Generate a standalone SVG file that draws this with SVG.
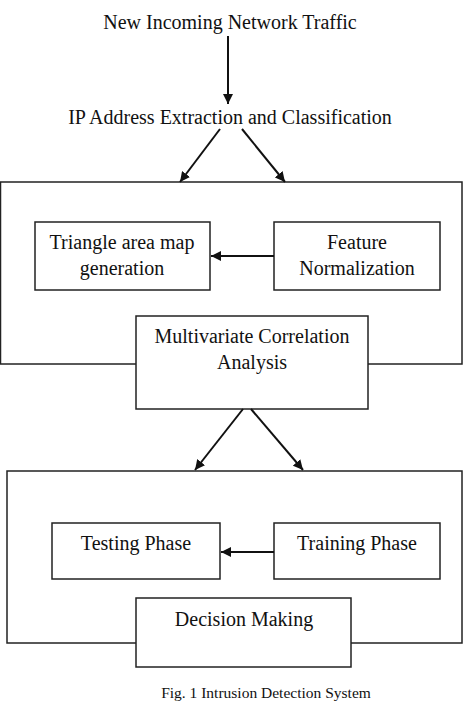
<svg xmlns="http://www.w3.org/2000/svg" width="469" height="701" viewBox="0 0 469 701">
  <defs>
    <marker id="arr" viewBox="0 0 10 10" refX="10" refY="5" markerWidth="10" markerHeight="10" markerUnits="userSpaceOnUse" orient="auto">
      <path d="M0,0 L10,5 L0,10 z" fill="#111"/>
    </marker>
    <style>
      .t { font-family: "Liberation Serif", "Times New Roman", serif; font-size: 20px; fill: #111; text-anchor: middle; }
      .cap { font-family: "Liberation Serif", "Times New Roman", serif; font-size: 15.5px; fill: #111; text-anchor: middle; }
      .box { fill: #fff; stroke: #222; stroke-width: 1.5; }
      .frame { fill: none; stroke: #222; stroke-width: 1.5; }
      .edge { stroke: #111; stroke-width: 2; fill: none; marker-end: url(#arr); }
    </style>
  </defs>
  <rect width="469" height="701" fill="#fff"/>

  <!-- container frames -->
  <g id="stage1">
    <rect class="frame" x="0.5" y="182" width="461.5" height="182"/>
  </g>
  <g id="stage2">
    <rect class="frame" x="7" y="471" width="455" height="172"/>
  </g>

  <g id="incoming">
    <text class="t" x="230" y="29">New Incoming Network Traffic</text>
  </g>
  <g id="extraction">
    <text class="t" x="230" y="124">IP Address Extraction and Classification</text>
  </g>

  <g id="triangle">
    <rect class="box" x="35" y="222" width="175" height="68"/>
    <text class="t" x="122" y="249">Triangle area map</text>
    <text class="t" x="122" y="275">generation</text>
  </g>
  <g id="normalization">
    <rect class="box" x="274" y="222" width="166" height="68"/>
    <text class="t" x="357" y="249">Feature</text>
    <text class="t" x="357" y="275">Normalization</text>
  </g>
  <g id="mca">
    <rect class="box" x="136" y="316" width="232" height="93"/>
    <text class="t" x="252" y="343">Multivariate Correlation</text>
    <text class="t" x="252" y="369">Analysis</text>
  </g>

  <g id="testing">
    <rect class="box" x="52" y="523" width="168" height="56"/>
    <text class="t" x="136" y="550">Testing Phase</text>
  </g>
  <g id="training">
    <rect class="box" x="274" y="523" width="166" height="56"/>
    <text class="t" x="357" y="550">Training Phase</text>
  </g>
  <g id="decision">
    <rect class="box" x="136" y="598" width="215" height="69"/>
    <text class="t" x="244" y="626">Decision Making</text>
  </g>

  <g id="caption">
    <text class="cap" x="266" y="698">Fig. 1 Intrusion Detection System</text>
  </g>

  <!-- connectors -->
  <g id="connectors">
    <line class="edge" x1="228" y1="36" x2="228" y2="104"/>
    <line class="edge" x1="220" y1="129" x2="180" y2="182"/>
    <line class="edge" x1="242" y1="129" x2="285" y2="182"/>
    <line class="edge" x1="274" y1="256" x2="211" y2="256"/>
    <line class="edge" x1="243" y1="409" x2="195" y2="470"/>
    <line class="edge" x1="251" y1="409" x2="303" y2="470"/>
    <line class="edge" x1="274" y1="552" x2="221" y2="552"/>
  </g>
</svg>
